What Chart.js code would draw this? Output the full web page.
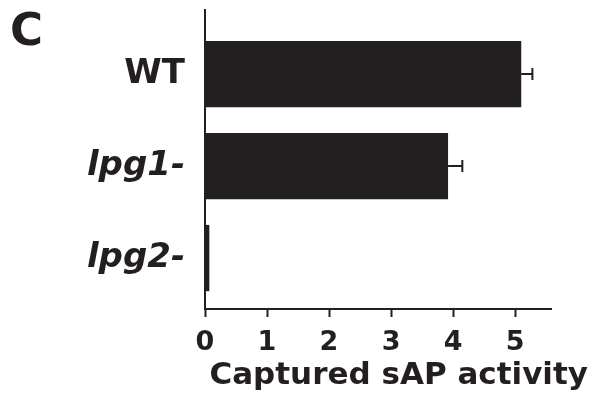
<!DOCTYPE html>
<html>
<head>
<meta charset="utf-8">
<script src="https://cdn.jsdelivr.net/npm/chart.js@4/dist/chart.umd.min.js"></script>
<style>
  html, body { margin: 0; padding: 0; background: #fff; }
  #wrap { width: 592px; height: 404px; }
</style>
</head>
<body>
<div id="wrap"><canvas id="sapChart"></canvas></div>
<script>
// values
const categories = ["WT", "lpg1-", "lpg2-"];
const activity = [5.1, 3.92, 0.07];
const activityErr = [0.18, 0.23, 0];
const xTicks = [0, 1, 2, 3, 4, 5];

const ink = "#231f20";

// draws the error whiskers using the x scale
const errorBars = {
  id: "errorBars",
  afterDatasetsDraw(chart) {
    const meta = chart.getDatasetMeta(0);
    const xs = chart.scales.x;
    const ctx = chart.ctx;
    ctx.save();
    ctx.strokeStyle = ink;
    ctx.lineWidth = 2;
    activity.forEach((v, i) => {
      if (!activityErr[i]) return;
      const y = meta.data[i].y;
      const x0 = xs.getPixelForValue(v);
      const x1 = xs.getPixelForValue(v + activityErr[i]);
      ctx.beginPath();
      ctx.moveTo(x0, y);
      ctx.lineTo(x1, y);
      ctx.moveTo(x1, y - 6);
      ctx.lineTo(x1, y + 6);
      ctx.stroke();
    });
    ctx.restore();
  },
};

// panel letter
const panelLetter = {
  id: "panelLetter",
  afterDraw(chart) {
    const ctx = chart.ctx;
    ctx.save();
    ctx.fillStyle = ink;
    ctx.font = "bold 45px 'DejaVu Sans'";
    ctx.textBaseline = "top";
    ctx.textAlign = "left";
    ctx.fillText("C", 10, 11);
    ctx.restore();
  },
};

new Chart(document.getElementById("sapChart"), {
  type: "bar",
  data: {
    datasets: [
      {
        data: activity.map((v, i) => ({ x: v, y: i })),
        xAxisID: "x",
        yAxisID: "y",
        backgroundColor: ink,
        borderWidth: 0,
        categoryPercentage: 0.8,
        barPercentage: 0.9,
      },
    ],
  },
  options: {
    indexAxis: "y",
    responsive: true,
    maintainAspectRatio: false,
    animation: false,
    layout: { padding: { top: 10, right: 4, left: 0, bottom: 13 } },
    plugins: {
      legend: { display: false },
      tooltip: { enabled: false },
      title: {
        display: true,
        position: "bottom",
        align: "end",
        text: "Captured sAP activity",
        color: ink,
        font: { family: "DejaVu Sans", size: 31, weight: "bold", lineHeight: 1.0 },
        padding: 0,
      },
    },
    scales: {
      x: {
        type: "linear",
        offset: false,
        min: 0,
        max: 5.58,
        afterBuildTicks: (s) => { s.ticks = xTicks.map((v) => ({ value: v })); },
        afterFit: (s) => { s.height = 51; },
        ticks: {
          color: ink,
          padding: 12,
          font: { family: "DejaVu Sans", size: 27, weight: "bold", lineHeight: 1.0 },
        },
        grid: { drawOnChartArea: false, drawTicks: true, tickLength: 8, tickWidth: 2, color: ink },
        border: { display: true, color: ink, width: 2 },
      },
      y: {
        type: "linear",
        offset: false,
        reverse: true,
        min: -0.696,
        max: 2.554,
        afterBuildTicks: (s) => { s.ticks = categories.map((_, i) => ({ value: i })); },
        afterFit: (s) => { s.width = 205; s.paddingTop = 0; s.paddingBottom = 0; },
        ticks: {
          color: ink,
          padding: 20,
          callback: (v) => categories[v],
          font: (c) => ({
            family: "DejaVu Sans",
            size: 34,
            weight: "bold",
            style: c.index > 0 ? "italic" : "normal",
          }),
        },
        grid: { display: false, drawTicks: false, offset: false },
        border: { display: true, color: ink, width: 2 },
      },
      pad: {
        type: "linear",
        position: "right",
        afterFit: (s) => { s.width = 37; s.paddingTop = 0; s.paddingBottom = 0; },
        ticks: { display: false },
        grid: { display: false, drawTicks: false },
        border: { display: false },
      },
    },
  },
  plugins: [errorBars, panelLetter],
});
</script>
</body>
</html>
